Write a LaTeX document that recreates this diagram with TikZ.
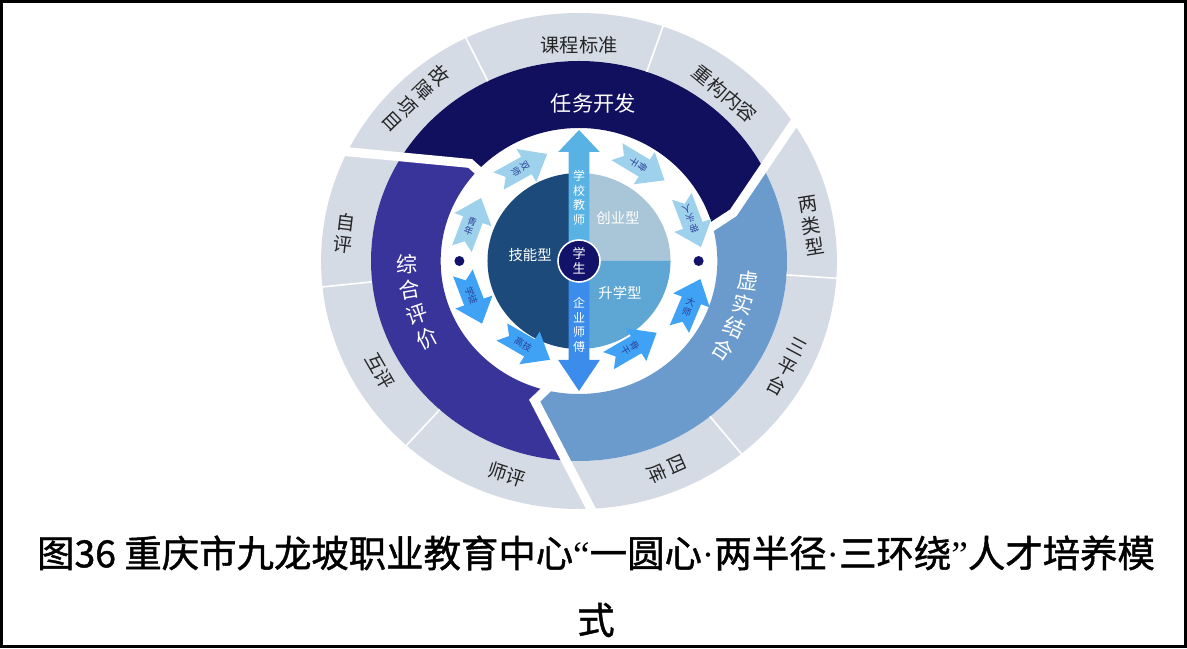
\documentclass[tikz,border=0pt]{standalone}
\usepackage{fontspec}
\usepackage{tikz}
\usepackage{xcolor}
\usetikzlibrary{calc}

\newfontfamily\cjk{Noto Sans CJK SC}
\newfontfamily\cjkb{Noto Sans CJK SC}[FakeBold=1.2]
\newfontfamily\qf{Liberation Serif}

\definecolor{ringgray}{HTML}{D5DBE5}
\definecolor{tasknavy}{HTML}{10105E}
\definecolor{evalpurple}{HTML}{38349A}
\definecolor{virtblue}{HTML}{6B9BCC}
\definecolor{piedark}{HTML}{1B4A7B}
\definecolor{pielight}{HTML}{A9C5D8}
\definecolor{piemid}{HTML}{5EA6D4}
\definecolor{schoolarrow}{HTML}{59B2E4}
\definecolor{firmarrow}{HTML}{3B8CEB}
\definecolor{stepup}{HTML}{9DD1EC}
\definecolor{stepdown}{HTML}{3FA2F4}
\definecolor{steptext}{HTML}{2B3E96}
\definecolor{dotnavy}{HTML}{12126A}

% chevron arrow in the white ring: name, angle, radius, direction, colour, text, text rotation
\newcommand{\stepArrow}[7]{%
  \begin{scope}[shift={(#2:#3)}, rotate=#4]
    \fill[#5] (-27,10) -- (4,10) -- (4,19) -- (27,0) -- (4,-19) -- (4,-10) -- (-27,-10) -- (-19,0) -- cycle;
    \node[steplbl, rotate=#7] (#1) at (-3,0) {#6};
  \end{scope}
}

\begin{document}
\begin{tikzpicture}[x=0.5pt,y=0.5pt,
  outerlbl/.style={font=\cjk\fontsize{9.6}{11}\selectfont, text=black!85, align=center, inner sep=0pt},
  ringlbl/.style={font=\cjk\fontsize{10.6}{12}\selectfont, text=white, inner sep=0pt},
  pielbl/.style={font=\cjk\fontsize{7.2}{8}\selectfont, text=white, inner sep=0pt},
  axislbl/.style={font=\cjk\fontsize{6}{7.3}\selectfont, text=white, align=center, inner sep=0pt},
  steplbl/.style={font=\cjk\fontsize{4.6}{5.2}\selectfont, text=steptext, align=center, inner sep=0pt},
  gapline/.style={white, line width=4.5pt},
  sepline/.style={white, line width=0.8pt},
  stepdot/.style={circle, fill=dotnavy, inner sep=0pt, minimum size=5pt},
  core/.style={circle, fill=dotnavy, draw=white, line width=0.8pt, minimum size=21pt, inner sep=0pt, align=center, font=\cjk\fontsize{6.5}{7.5}\selectfont, text=white},
  caption/.style={font=\cjkb\fontsize{18.7}{22}\selectfont, inner sep=0pt}]
\useasboundingbox (0,0) rectangle (1187,648);
\draw[line width=1.2pt] (1.5,1.5) rectangle (1185.5,646.5);

\begin{scope}[shift={(579,387)}, xscale=1.04]
% outer ring
\fill[ringgray, even odd rule] (0,0) circle (248) (0,0) circle (200);

% three ring sectors
\begin{scope}
  \clip (0,0) -- (14:126) -- (18:156) -- (35:262) arc[start angle=35, end angle=155, radius=262] -- (137:143) -- (137:126) -- cycle;
  \fill[tasknavy, even odd rule] (0,0) circle (200) (0,0) circle (133);
\end{scope}
\begin{scope}
  \clip (0,0) -- (-102:126) -- (-107:146) -- (-86:262) arc[start angle=-86, end angle=35, radius=262] -- (18:156) -- (14:126) -- cycle;
  \fill[virtblue, even odd rule] (0,0) circle (200) (0,0) circle (133);
\end{scope}
\begin{scope}
  \clip (0,0) -- (137:126) -- (137:143) -- (155:262) arc[start angle=155, end angle=274, radius=262] -- (-107:146) -- (-102:126) -- cycle;
  \fill[evalpurple, even odd rule] (0,0) circle (200) (0,0) circle (133);
\end{scope}

% gaps between sectors
\draw[gapline] (155:262) -- (137:143) -- (137:126);
\draw[gapline] (35:262) -- (18:156) -- (14:126);
\draw[gapline] (-86:262) -- (-107:146) -- (-102:126);
\foreach \a in {116,71,-4,-51,186,228}
  \draw[sepline] (\a:200) -- (\a:250);

% outer labels
\node[outerlbl, rotate=-46] (fault) at (134:226) {故\\障\\项\\目};
\node[outerlbl] (std) at (90:216) {课程标准};
\node[outerlbl, rotate=-40] (rebuild) at (50:218) {重构内容};
\node[outerlbl, rotate=9] (twotype) at (9:226) {两\\类\\型};
\node[outerlbl, rotate=-28] (threeplat) at (-28:226) {三\\平\\台};
\node[outerlbl, rotate=-66] (fourlib) at (-68:225) {四\\库};
\node[outerlbl, rotate=-18] (teacherev) at (-108:225) {师评};
\node[outerlbl, rotate=-60] (peerev) at (210:221) {互评};
\node[outerlbl, rotate=-7] (selfev) at (173:227) {自\\评};

% ring labels
\node[ringlbl] (task) at (85:158) {任务开发};
\foreach \ch/\a [count=\i] in {虚/-7,实/-15.5,结/-24,合/-32.5}
  \node[ringlbl, rotate=\a] (virt\i) at (\a:164) {\ch};
\foreach \ch/\a [count=\i] in {综/181,合/190,评/199,价/208}
  \node[ringlbl, rotate=\a-180] (eval\i) at (\a:165) {\ch};

% pie
\fill[piedark] (0,88) arc (90:270:88) -- cycle;
\fill[pielight] (0,0) -- (88,0) arc (0:90:88) -- cycle;
\fill[piemid] (0,0) -- (0,-88) arc (-90:0:88) -- cycle;
\node[pielbl] (skill) at (-47,6) {技能型};
\node[pielbl] (startup) at (37.5,43) {创业型};
\node[pielbl] (study) at (39.4,-32) {升学型};

% two radii
\fill[schoolarrow] (-10,0) -- (-10,109) -- (-20,109) -- (0,131) -- (20,109) -- (10,109) -- (10,0) -- cycle;
\fill[firmarrow] (-10,0) -- (-10,-99) -- (-20,-99) -- (0,-130) -- (20,-99) -- (10,-99) -- (10,0) -- cycle;
\node[axislbl] (school) at (0,63) {学\\校\\教\\师};
\node[axislbl] (firm) at (0,-64) {企\\业\\师\\傅};
\node[core] (student) at (0,0) {学\\生};

% growth steps
\stepArrow{young}{160}{110}{70}{stepup}{青\\年}{-20}
\stepArrow{dual}{120}{108}{30}{stepup}{双\\师}{-60}
\stepArrow{backbone}{58}{112}{-32}{stepup}{骨\\干}{-122}
\stepArrow{leader}{20}{115}{-70}{stepup}{带\\头\\人}{-160}
\stepArrow{novice}{200}{109}{-70}{stepdown}{学徒}{-70}
\stepArrow{hightech}{239}{99}{-31}{stepdown}{高技}{-31}
\stepArrow{core2}{301}{100}{31}{stepdown}{骨\\干}{-59}
\stepArrow{master}{338}{115}{68}{stepdown}{大\\师}{-22}
\node[stepdot] (ldot) at (180:115) {};
\node[stepdot] (rdot) at (0:115) {};
\end{scope}

% caption
\node[caption] (cap1) at (596,95) {图36 重庆市九龙坡职业教育中心{\qf “}一圆心{\qf ·}两半径{\qf ·}三环绕{\qf ”}人才培养模};
\node[caption] (cap2) at (596,28) {式};
\end{tikzpicture}
\end{document}
